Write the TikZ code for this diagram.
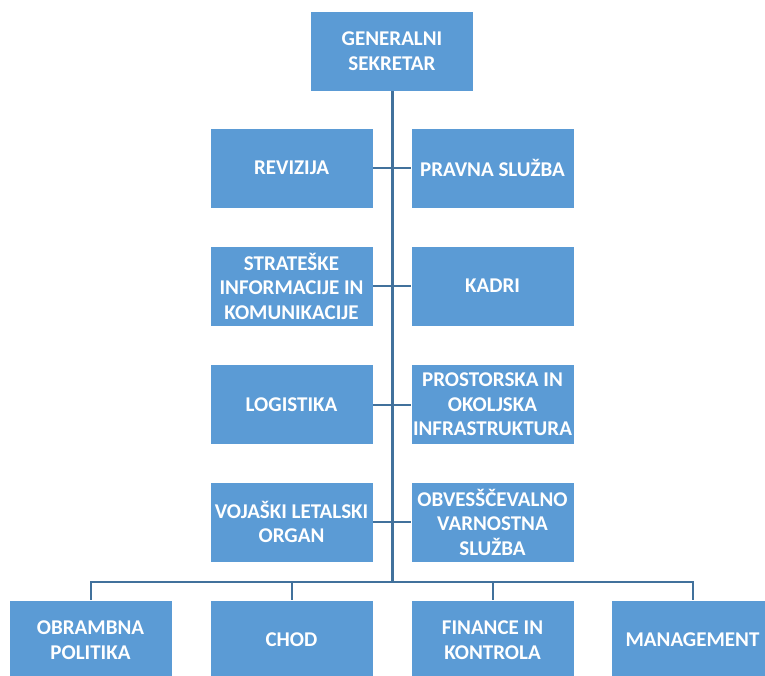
\documentclass[tikz,border=0pt]{standalone}
\usepackage{fontspec}
\setmainfont{Carlito}
\usepackage{xcolor}
\definecolor{unitblue}{HTML}{5B9BD5}
\definecolor{linkblue}{HTML}{41719C}
\usepackage{tikz}
\usetikzlibrary{positioning, calc}

\begin{document}
\begin{tikzpicture}[
  x=1pt, y=-1pt,
  unit/.style={draw=white, line width=0.6pt, fill=unitblue, text=white,
    minimum width=163pt, minimum height=80pt, inner sep=1pt, align=center,
    font=\fontsize{21}{24.5}\selectfont\bfseries},
  link/.style={draw=linkblue, line width=2pt},
  trunk/.style={draw=linkblue, line width=3pt}
]
  \useasboundingbox (0,0) rectangle (765,675);

  % top
  \node[unit] (gs) at (392,51) {GENERALNI\\SEKRETAR};

  % staff units, left and right of the trunk
  \node[unit] (rev)  at (291.5,168)   {REVIZIJA};
  \node[unit] (prav) at (492.5,168)   {PRAVNA SLUŽBA};
  \node[unit] (sik)  at (291.5,286)   {STRATEŠKE\\INFORMACIJE IN\\KOMUNIKACIJE};
  \node[unit] (kad)  at (492.5,286)   {KADRI};
  \node[unit] (log)  at (291.5,404.5) {LOGISTIKA};
  \node[unit] (poi)  at (492.5,404.5) {PROSTORSKA IN\\OKOLJSKA\\INFRASTRUKTURA};
  \node[unit] (vlo)  at (291.5,522)   {VOJAŠKI LETALSKI\\ORGAN};
  \node[unit] (ovs)  at (492.5,522)   {OBVESŠČEVALNO\\VARNOSTNA\\SLUŽBA};

  % directorates
  \node[unit] (obp)  at (90.5,640)  {OBRAMBNA\\POLITIKA};
  \node[unit] (chod) at (291.5,640) {CHOD};
  \node[unit] (fik)  at (492.5,640) {FINANCE IN\\KONTROLA};
  \node[unit] (man)  at (692.5,640) {MANAGEMENT};

  \coordinate (bus) at (392,582);

  % connectors
  \draw[link] (rev.east) -- (prav.west);
  \draw[link] (sik.east) -- (kad.west);
  \draw[link] (log.east) -- (poi.west);
  \draw[link] (vlo.east) -- (ovs.west);
  \draw[link] (obp.north) |- (man.north |- bus) -- (man.north);
  \draw[link] (chod.north) -- (chod.north |- bus);
  \draw[link] (fik.north) -- (fik.north |- bus);
  \draw[trunk] (gs.south) -- (bus);
\end{tikzpicture}
\end{document}
